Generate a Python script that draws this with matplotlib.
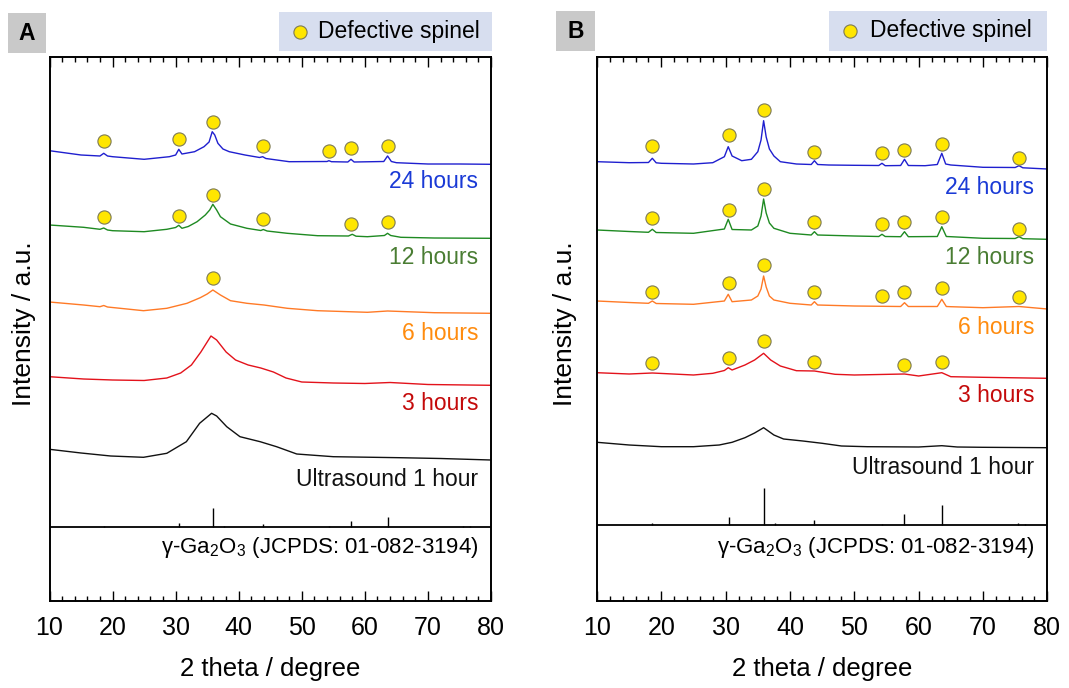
import numpy as np
import matplotlib
matplotlib.use('Agg')
import matplotlib.pyplot as plt
from matplotlib.patches import Rectangle
from matplotlib.lines import Line2D

plt.rcParams['font.family'] = ['Liberation Sans', 'DejaVu Sans']
plt.rcParams['mathtext.fontset'] = 'custom'
plt.rcParams['mathtext.rm'] = 'Liberation Sans'
plt.rcParams['mathtext.default'] = 'regular'

# ---------------- data (2 theta in degree, intensity in a.u. incl. offset) ----------------
# panel A
a_24h_x = [10, 15, 18.0, 18.6, 19.2, 20, 25, 29, 30.0, 30.5, 31.0, 33, 34.5, 35.3, 35.8, 36.2,
           36.7, 37.5, 38.5, 41, 43.3, 43.8, 44.3, 48, 54.0, 54.3, 54.7, 57.3, 57.8, 58.3,
           63.0, 63.6, 64.2, 65, 70, 75, 80]
a_24h_y = [450.3, 446, 445, 447.7, 445, 444.3, 441.7, 444.3, 446, 451.7, 447, 449.3, 454.3, 459,
           469.3, 466, 457.7, 452, 449.3, 446, 443.5, 444.3, 442.5, 439.3, 439.5, 440.3, 439.3,
           439, 441.7, 439, 439.5, 445, 439.5, 438.3, 437, 437, 436.7]
a_24h_pk_x = [18.6, 30.5, 36.0, 43.8, 54.3, 57.8, 63.6]
a_24h_pk_y = [460, 462, 479.3, 455, 450.3, 452.7, 455]

a_12h_x = [10, 15.4, 18.0, 18.6, 19.2, 20, 25, 28.6, 30.0, 30.5, 31.0, 32, 33.4, 34.7, 35.4,
           35.9, 36.5, 37.1, 38.7, 41.3, 43.5, 43.9, 44.5, 47.7, 52.5, 57.4, 58.0, 58.6, 60.4,
           63.1, 63.6, 64.1, 65.7, 71, 80]
a_12h_y = [376, 373.7, 371.7, 373, 371, 370.3, 369.3, 371.7, 373.5, 375.7, 372.7, 374.5, 379.3,
           386, 391, 396.7, 391, 384.3, 377, 372.7, 370.5, 371.5, 370, 367.7, 365.3, 365, 366.7,
           364.8, 364.3, 365.5, 367.7, 365.5, 363.7, 363, 362.7]
a_12h_pk_x = [18.6, 30.5, 36.0, 43.8, 57.8, 63.6]
a_12h_pk_y = [384.3, 385.3, 406, 382, 377, 379.3]

a_6h_x = [10, 15.4, 18, 18.6, 19.2, 24.9, 28.6, 31.8, 33.9, 35, 35.9, 37.1, 38.7, 41.3, 44,
          47.7, 52.5, 60.4, 63.6, 71, 80]
a_6h_y = [299, 296, 294.3, 295.5, 294, 290.3, 292.7, 297.7, 303.3, 307, 311, 306, 300.3, 297.7,
          296, 292.7, 290.3, 288.7, 290, 288.3, 287.7]
a_6h_pk_x = [36.0]
a_6h_pk_y = [322.7]

a_3h_x = [10, 15.4, 20, 25, 28.6, 30.8, 32.5, 34, 35.6, 36.5, 38, 39.5, 41.5, 43.5, 45.5, 47.5,
          50, 55, 60, 64, 70, 80]
a_3h_y = [224.3, 222, 221, 220.5, 223, 228, 236, 249, 265, 261, 249, 241, 236, 233, 229, 223,
          219, 218, 217.5, 218.5, 216.5, 215.7]

a_us_x = [10, 15, 19.7, 24.9, 28.6, 31.7, 33.8, 35.7, 36.5, 38.1, 40.2, 43.4, 46, 49.2, 55,
          65.5, 72, 80]
a_us_y = [151.7, 148, 145, 143.7, 147.7, 159.3, 177.7, 187.7, 185, 174.3, 164.3, 159.3, 154.3,
          147, 144.3, 143.3, 142.5, 141]

# panel B
b_24h_x = [10, 15, 18.0, 18.6, 19.2, 20, 25, 28, 29.8, 30.4, 31.0, 32.5, 34, 35, 35.5, 35.9,
           36.3, 36.8, 37.5, 38.5, 41, 43.3, 43.8, 44.3, 46, 50, 53.8, 54.3, 54.8, 57.2, 57.8,
           58.4, 61, 62.9, 63.6, 64.2, 65, 70, 75.0, 75.6, 76.2, 80]
b_24h_y = [439.3, 438.3, 438.5, 442.7, 438.2, 437.7, 437, 438.3, 444.3, 454.3, 445, 440.3, 441.7,
           449.3, 461, 480.3, 464, 452, 445, 439.3, 437, 436.5, 440.3, 436.5, 436, 435.7, 435.5,
           437.7, 435.3, 435.5, 441.7, 435.5, 435.3, 436.5, 447.7, 437, 436, 433.7, 433.5,
           435.3, 433.2, 432]
b_24h_pk_x = [18.6, 30.5, 36.0, 43.8, 54.3, 57.8, 63.6, 75.6]
b_24h_pk_y = [455.3, 466, 491, 449.3, 448.3, 451, 457, 442.7]

b_12h_x = [10, 15, 18.0, 18.6, 19.2, 25, 29.8, 30.4, 31.0, 34, 35.0, 35.5, 35.9, 36.3, 36.8,
           37.5, 40, 43.3, 43.8, 44.3, 50, 53.8, 54.3, 54.8, 57.2, 57.8, 58.4, 62.9, 63.6, 64.3,
           65, 70, 75.0, 75.6, 76.2, 80]
b_12h_y = [371, 369.5, 368.7, 371.7, 368.5, 367.7, 372, 381.7, 371.5, 371, 375, 385, 402, 388,
           378, 372.7, 367.7, 366, 369.3, 366, 365, 364.5, 366.7, 364.5, 364.3, 369.3, 364.3,
           364.5, 374.3, 364.5, 364.3, 362.7, 362.5, 364.3, 362.3, 361.7]
b_12h_pk_x = [18.6, 30.5, 36.0, 43.8, 54.3, 57.8, 63.6, 75.6]
b_12h_pk_y = [382.7, 391, 412, 379.3, 376.7, 378.7, 384, 372]

b_6h_x = [10, 15, 18.0, 18.6, 19.2, 25, 29.8, 30.4, 31.0, 34, 35.0, 35.5, 35.9, 36.3, 36.8,
          37.5, 40, 43.3, 43.8, 44.3, 50, 57.2, 57.8, 58.4, 62.9, 63.6, 64.3, 65, 70, 75.6, 80]
b_6h_y = [300, 298.5, 297.7, 300, 297.5, 296.7, 300, 306.7, 299.3, 301, 305, 312, 325, 314,
          305, 301, 297.7, 296, 299.3, 296, 295, 294.5, 298.3, 294.5, 294.5, 301.7, 294.5,
          294.3, 293.3, 294.5, 292]
b_6h_pk_x = [18.6, 30.5, 36.0, 43.8, 54.3, 57.8, 63.6, 75.6]
b_6h_pk_y = [309.3, 317.7, 336, 309.3, 305, 309, 312.7, 303.7]

b_3h_x = [10, 15, 18.6, 25, 28, 29.8, 30.4, 31.0, 33, 34.5, 35.9, 37, 38.5, 41, 43.8, 47, 50,
          57.8, 60, 63.6, 65, 70, 80]
b_3h_y = [228.3, 227, 228, 226, 227.7, 230.5, 233.3, 231, 236, 241, 247.7, 241, 235, 230.3, 230,
          226.7, 226, 227, 225, 228.3, 224.3, 223.7, 222.7]
b_3h_pk_x = [18.6, 30.5, 36.0, 43.8, 57.8, 63.6]
b_3h_pk_y = [238.3, 242.7, 260.3, 239.3, 236, 238.7]

b_us_x = [10, 15, 20, 25, 29, 31, 33, 34.5, 35.9, 37.5, 39, 42, 45, 48, 52, 60, 63.6, 66, 70, 80]
b_us_y = [158.7, 156, 154.3, 154.3, 156, 158.7, 163.3, 168, 173.3, 166, 162, 160, 157.7, 155,
          154.3, 154, 155.3, 154, 153.7, 153.3]

# gamma-Ga2O3 reference pattern (JCPDS 01-082-3194), relative intensity
ref_pos = [18.6, 30.5, 36.0, 37.6, 43.8, 54.3, 57.8, 63.6, 75.5, 76.6]
ref_int = [5, 22, 100, 6, 14, 4, 31, 53, 6, 3]

sample_names = ['24 hours', '12 hours', '6 hours', '3 hours', 'Ultrasound 1 hour']

# ---------------- styles ----------------
line_colors = ['#1f1fcf', '#1e8a22', '#ff7a26', '#e3121b', '#111111']
text_colors = ['#1a3ad6', '#4a7d33', '#ff8c0f', '#c40a0a', '#111111']
spinel_face = '#ffe600'
spinel_edge = '#7d7a55'

W, H = 1069, 688
fig = plt.figure(figsize=(W / 100, H / 100), dpi=100)


def fig_rect(x0, y0, x1, y1):
    return [x0 / W, 1 - y1 / H, (x1 - x0) / W, (y1 - y0) / H]


def draw_panel(ax, traces, markers, label_y, ref_base, ref_scale, ylab_x):
    ax.set_xlim(10, 80)
    ax.set_ylim(0, 544)
    for (x, y), c in zip(traces, line_colors):
        ax.plot(x, y, color=c, lw=1.0)
    for mx, my in markers:
        ax.plot(mx, my, ls='none', marker='o', ms=9.5, mfc=spinel_face,
                mec=spinel_edge, mew=0.8, zorder=5)
    for name, ly, tc in zip(sample_names, label_y, text_colors):
        ax.text(78, ly, name, ha='right', va='center', color=tc, fontsize=16.5)

    # reference pattern
    ax.axhline(ref_base, color='black', lw=1.3)
    ax.vlines(ref_pos, ref_base, ref_base + np.array(ref_int) * ref_scale,
              color='black', lw=1.0)
    ax.text(78, 53, r'γ-Ga$_2$O$_3$ (JCPDS: 01-082-3194)', ha='right', va='center',
            fontsize=16)

    ax.set_xticks(np.arange(10, 81, 10))
    ax.set_xticks(np.arange(10, 81, 2), minor=True)
    ax.set_yticks([])
    ax.tick_params(axis='x', which='both', direction='in', top=True, bottom=True,
                   labelsize=18, pad=11, width=1.0)
    ax.tick_params(axis='x', which='major', length=7)
    ax.tick_params(axis='x', which='minor', length=3.6)
    for s in ax.spines.values():
        s.set_linewidth(1.4)
    ax.set_xlabel('2 theta / degree', fontsize=18.5, labelpad=12)
    ax.set_ylabel('Intensity / a.u.', fontsize=19)
    ax.yaxis.set_label_coords(ylab_x, 0.51)


ax_a = fig.add_axes(fig_rect(49.5, 57, 491, 601))
ax_b = fig.add_axes(fig_rect(597, 57, 1047.3, 601))

draw_panel(ax_a,
           [(a_24h_x, a_24h_y), (a_12h_x, a_12h_y), (a_6h_x, a_6h_y),
            (a_3h_x, a_3h_y), (a_us_x, a_us_y)],
           [(a_24h_pk_x, a_24h_pk_y), (a_12h_pk_x, a_12h_pk_y), (a_6h_pk_x, a_6h_pk_y)],
           [419, 344, 268, 198, 121], 74, 0.19, -0.03)
draw_panel(ax_b,
           [(b_24h_x, b_24h_y), (b_12h_x, b_12h_y), (b_6h_x, b_6h_y),
            (b_3h_x, b_3h_y), (b_us_x, b_us_y)],
           [(b_24h_pk_x, b_24h_pk_y), (b_12h_pk_x, b_12h_pk_y), (b_6h_pk_x, b_6h_pk_y),
            (b_3h_pk_x, b_3h_pk_y)],
           [413, 343, 274, 205, 134], 76, 0.37, -0.045)

# panel letters and legend boxes
for letter, box in [('A', (8, 13, 46, 53)), ('B', (556, 11, 595, 51))]:
    r = fig_rect(*box)
    fig.add_artist(Rectangle((r[0], r[1]), r[2], r[3], transform=fig.transFigure,
                             fc='#c9c9c9', ec='none'))
    fig.text(r[0] + r[2] / 2, r[1] + r[3] / 2, letter, ha='center', va='center',
             fontsize=16.5, fontweight='bold')

for box, mk_x, tx_x in [((279, 12, 492, 51), 300, 318), ((829, 11, 1047, 51), 850, 870)]:
    r = fig_rect(*box)
    fig.add_artist(Rectangle((r[0], r[1]), r[2], r[3], transform=fig.transFigure,
                             fc='#d7deef', ec='none'))
    yc = r[1] + r[3] / 2
    fig.add_artist(Line2D([mk_x / W], [yc], transform=fig.transFigure, ls='none',
                          marker='o', ms=9.5, mfc=spinel_face, mec=spinel_edge, mew=0.8))
    fig.text(tx_x / W, yc, 'Defective spinel', ha='left', va='center', fontsize=16.5)

fig.savefig('out.png', dpi=100)
